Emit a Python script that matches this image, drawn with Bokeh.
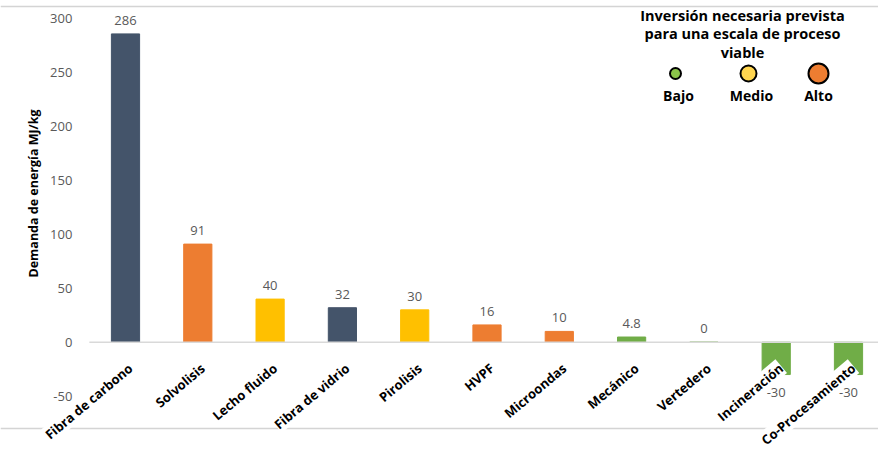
from math import pi, radians
from bokeh.plotting import figure
from bokeh.models import ColumnDataSource, Range1d, FixedTicker, LabelSet, Label, Span
from bokeh.core.properties import value
from bokeh.embed import file_html
from bokeh.resources import INLINE

# ---------------- data ----------------
categories = ["Fibra de carbono", "Solvolisis", "Lecho fluido", "Fibra de vidrio",
              "Pirolisis", "HVPF", "Microondas", "Mecánico", "Vertedero",
              "Incineración", "Co-Procesamiento"]
energy = [286, 91, 40, 32, 30, 16, 10, 4.8, 0, -30, -30]
value_labels = ["286", "91", "40", "32", "30", "16", "10", "4.8", "0", "-30", "-30"]
bar_colors = ["#44546A", "#ED7D31", "#FFC000", "#44546A", "#FFC000", "#ED7D31",
              "#ED7D31", "#70AD47", "#70AD47", "#70AD47", "#70AD47"]
y_ticks = [-50, 0, 50, 100, 150, 200, 250, 300]
y_tick_labels = {-50: "-50"}
y_title = "Demanda de energía MJ/kg"

legend_title = "Inversión necesaria prevista\npara una escala de proceso\nviable"
legend_labels = ["Bajo", "Medio", "Alto"]
legend_colors = ["#8BC34A", "#FFD54F", "#ED7D31"]

# ---------------- layout constants (picture pixels) ----------------
W, H = 878, 454
PX_PER_CAT = 72.3
FIRST_CAT_PX = 125.0     # centre of first bar
ZERO_PX = 341.7          # y of the zero line
PX_PER_UNIT = 1.078
FONT = "Open Sans"


def px_x(px):
    return (px - FIRST_CAT_PX) / PX_PER_CAT


def px_y(py):
    return (ZERO_PX - py) / PX_PER_UNIT


x_idx = list(range(len(categories)))
src = ColumnDataSource(dict(
    x=x_idx, top=energy, color=bar_colors, cat=categories, vlab=value_labels,
    voff=[13.5 if v >= 0 else -18 for v in energy],
))

p = figure(width=W, height=H, output_backend="svg", toolbar_location=None,
           x_range=Range1d(px_x(0), px_x(W)),
           y_range=Range1d(px_y(H), px_y(0)),
           x_axis_location=None, min_border=0, outline_line_color=None)
p.grid.visible = False

# y axis placed at the left edge of the first category
yax = p.yaxis[0]
yax.fixed_location = -0.5
yax.ticker = FixedTicker(ticks=y_ticks)
yax.major_label_overrides = y_tick_labels
yax.axis_line_color = None
yax.major_tick_line_color = None
yax.minor_tick_line_color = None
yax.major_label_standoff = 11
yax.major_label_text_font = FONT
yax.major_label_text_font_size = "13px"
yax.major_label_text_color = "#595959"

# y axis title (centred on the tick span, as in the reference)
p.add_layout(Label(x=px_x(33), y=px_y(193), text=y_title, angle=pi / 2,
                   text_align="center", text_baseline="middle", text_font=FONT,
                   text_font_size="12.5px", text_font_style="bold", text_color="#000000"))

# border lines top / bottom
p.add_layout(Span(location=px_y(6), dimension="width", line_color="#d4d4d4", line_width=1.5))
p.add_layout(Span(location=px_y(428), dimension="width", line_color="#d4d4d4", line_width=1.5))

# bars
p.vbar(x="x", top="top", bottom=0, width=0.39, color="color", source=src)
# baseline
p.ray(x=[-0.5], y=[0], length=0, angle=0, line_color="#d9d9d9", line_width=1.5)

# value labels
p.add_layout(LabelSet(x="x", y="top", text="vlab", source=src, y_offset="voff",
                      text_align="center", text_baseline="middle",
                      text_font=value(FONT), text_font_size="13px", text_color="#595959"))

# category labels
p.add_layout(LabelSet(x="x", y=0, text="cat", source=src, angle=radians(40),
                      x_offset=5, y_offset=-24,
                      text_align="right", text_baseline="middle",
                      text_font=value(FONT), text_font_size="13px", text_font_style="bold",
                      text_color="#000000", background_fill_color="white"))

# legend
p.add_layout(Label(x=px_x(742), y=px_y(5), text=legend_title, text_align="center",
                   text_baseline="top", text_font=FONT, text_font_size="14.5px",
                   text_font_style="bold", text_color="#000000", text_line_height=0.98))
leg = ColumnDataSource(dict(
    x=[px_x(675), px_x(748), px_x(818)],
    y=[px_y(73)] * 3,
    lx=[px_x(678), px_x(751), px_x(818)],
    ly=[px_y(95)] * 3,
    size=[11, 16, 20],
    color=legend_colors,
    lab=legend_labels,
))
p.scatter(x="x", y="y", size="size", fill_color="color", line_color="black",
          line_width=2, source=leg)
p.text(x="lx", y="ly", text="lab", source=leg, text_align="center", text_baseline="middle",
       text_font=value(FONT), text_font_size="14px", text_font_style="bold",
       text_color="#000000")

open("out.html", "w").write(file_html(p, INLINE))
